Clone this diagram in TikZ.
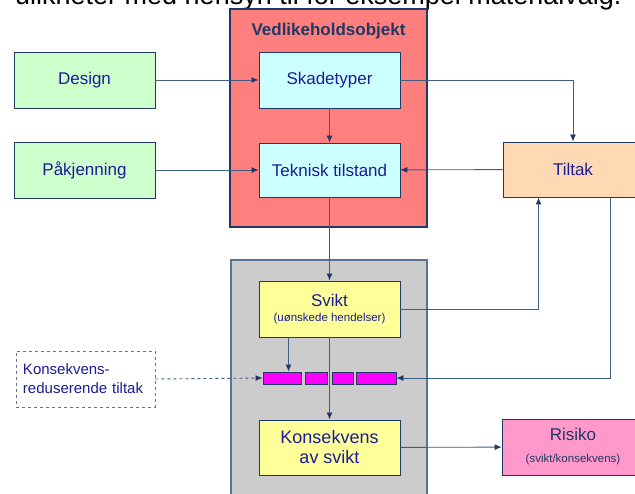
\documentclass[tikz,border=0pt]{standalone}
\usepackage{fontspec}
\setmainfont{Liberation Sans}
\usetikzlibrary{arrows.meta}
\definecolor{navy}{HTML}{1F3864}
\definecolor{txtblue}{HTML}{1C1C96}
\definecolor{linec}{HTML}{3F5F82}
\definecolor{redf}{HTML}{FF7F7F}
\definecolor{cyanf}{HTML}{CCFFFF}
\definecolor{greenf}{HTML}{CCFFCC}
\definecolor{peachf}{HTML}{FFD9B3}
\definecolor{grayf}{HTML}{CCCCCC}
\definecolor{grayb}{HTML}{5A7594}
\definecolor{yellowf}{HTML}{FFFF99}
\definecolor{pinkf}{HTML}{FF99CC}
\definecolor{magf}{HTML}{FF00FF}
\tikzset{
  box/.style={draw=navy, line width=0.9pt, rectangle, inner sep=0pt, align=center,
    text=txtblue, font=\fontsize{17}{20}\selectfont},
  bar/.style={draw=navy, line width=0.9pt, fill=magf, rectangle, inner sep=0pt,
    minimum height=12pt},
  conn/.style={draw=linec, line width=0.9pt, -{Latex[length=7pt,width=6pt,color=navy]}},
}
\begin{document}
\begin{tikzpicture}[x=1pt,y=-1pt]
\clip (0,0) rectangle (635,494);
\fill[white] (0,0) rectangle (635,494);
% clipped heading text at the top
\node[anchor=base west, inner sep=0pt, font=\fontsize{27}{30}\selectfont] (head) at (15,4.5)
  {ulikheter med hensyn til for eksempel materialvalg.};
% containers
\draw[navy, line width=1.2pt, fill=redf] (230,9) rectangle (427,227);
\node[font=\bfseries\fontsize{17}{20}\selectfont, text=navy, anchor=base] (vtitle) at (328.5,36) {Vedlikeholdsobjekt};
\draw[grayb, line width=1.2pt, fill=grayf] (231,260) rectangle (427,510);
% boxes
\node[box, fill=greenf, minimum width=141pt, minimum height=56pt] (design) at (84.5,80) {Design};
\node[box, fill=greenf, minimum width=141pt, minimum height=56pt] (pak) at (84.5,170) {Påkjenning};
\node[box, fill=cyanf, minimum width=141pt, minimum height=56pt] (skade) at (329.5,80) {Skadetyper};
\node[box, fill=cyanf, minimum width=141pt, minimum height=54pt] (tek) at (329.5,170) {Teknisk tilstand};
\node[box, fill=peachf, minimum width=140pt, minimum height=55pt] (tiltak) at (573,169.5) {Tiltak};
\node[box, fill=yellowf, minimum width=141pt, minimum height=56pt, font=\fontsize{17}{16}\selectfont] (svikt) at (329.5,309)
  {Svikt\\[-1pt]{\fontsize{11.5}{13}\selectfont(uønskede hendelser)}};
\node[box, fill=yellowf, minimum width=141pt, minimum height=55pt, font=\fontsize{18}{20}\selectfont] (kons) at (329.5,447.5)
  {Konsekvens\\av svikt};
\node[box, fill=pinkf, minimum width=142pt, minimum height=56pt, text=navy, font=\fontsize{17}{22}\selectfont] (risiko) at (573,447)
  {Risiko\\{\fontsize{11.5}{13}\selectfont(svikt/konsekvens)}};
\node[box, fill=white, dashed, draw=grayb, minimum width=139pt, minimum height=56pt, align=left,
  font=\fontsize{15}{19}\selectfont, text width=125pt] (kred) at (85.5,379)
  {Konsekvens-\\reduserende tiltak};
% bars
\node[bar, minimum width=38pt] (b1) at (282,378) {};
\node[bar, minimum width=22pt] (b2) at (316,378) {};
\node[bar, minimum width=21pt] (b3) at (342.5,378) {};
\node[bar, minimum width=40pt] (b4) at (376,378) {};
% connectors
\draw[conn] (design) -- (skade);
\draw[conn] (pak) -- (tek);
\draw[conn] (skade) -- (tek);
\draw[conn] (skade.east) -| (tiltak.north);
\draw[conn] (tiltak) -- (tek);
\draw[conn] (tek) -- (svikt);
\draw[conn] (svikt.east) -| ([xshift=36pt]tiltak.south west);
\draw[conn] ([xshift=108pt]tiltak.south west) |- (b4.east);
\draw[conn] ([xshift=30pt]svikt.south west) -- ([xshift=30pt]svikt.south west |- b1.north);
\draw[conn] (svikt.south) -- (kons.north);
\draw[conn, dashed] (kred.east) -- (b1.west);
\draw[conn] (kons) -- (risiko);
\end{tikzpicture}
\end{document}
